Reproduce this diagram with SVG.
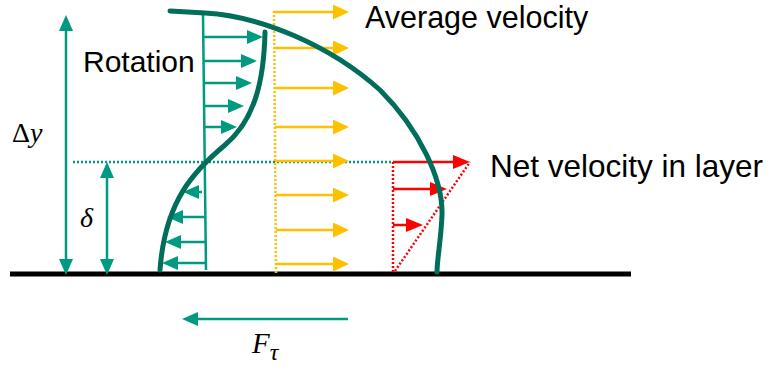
<svg xmlns="http://www.w3.org/2000/svg" width="771" height="370" viewBox="0 0 771 370">
<style>
.lbl{font-family:"Liberation Sans",Arial,sans-serif;font-size:31.5px;fill:#000}
.math{font-family:"Liberation Serif","Times New Roman",serif;fill:#000}
.teal{stroke:#009a80;stroke-width:2.5;fill:none}
.yel{stroke:#ffc000;stroke-width:2.5;fill:none}
.red{stroke:#ff0000;stroke-width:2.5;fill:none}
.thick{stroke:#006e5a;stroke-width:5;fill:none;stroke-linecap:round}
</style>
<defs>
<marker id="mt" markerUnits="userSpaceOnUse" markerWidth="16" markerHeight="14" refX="6" refY="7" orient="auto-start-reverse"><path d="M0,0 L16,7 L0,14 z" fill="#009a80"/></marker>
<marker id="my" markerUnits="userSpaceOnUse" markerWidth="16" markerHeight="15" refX="6" refY="7.5" orient="auto"><path d="M0,0 L16,7.5 L0,15 z" fill="#ffc000"/></marker>
<marker id="mr" markerUnits="userSpaceOnUse" markerWidth="17" markerHeight="14" refX="6" refY="7" orient="auto"><path d="M0,0 L17,7 L0,14 z" fill="#ff0000"/></marker>
</defs>
<g id="ground"><line x1="10" y1="274" x2="631" y2="274" stroke="#000" stroke-width="5"/></g>
<g id="connectors">
<line class="teal" x1="66" y1="25" x2="66" y2="265" marker-start="url(#mt)" marker-end="url(#mt)"/>
<line class="teal" x1="107" y1="172" x2="107" y2="265" marker-start="url(#mt)" marker-end="url(#mt)"/>
<line class="teal" x1="73" y1="162" x2="393" y2="162" stroke-width="2" stroke-dasharray="2 2"/>
<line class="teal" x1="203" y1="14" x2="206" y2="270"/>
<line class="teal" x1="204" y1="37" x2="253" y2="37" marker-end="url(#mt)"/>
<line class="teal" x1="204" y1="61" x2="247" y2="61" marker-end="url(#mt)"/>
<line class="teal" x1="204" y1="83" x2="242" y2="83" marker-end="url(#mt)"/>
<line class="teal" x1="205" y1="106" x2="234" y2="106" marker-end="url(#mt)"/>
<line class="teal" x1="205" y1="127" x2="227" y2="127" marker-end="url(#mt)"/>
<line class="teal" x1="202" y1="192" x2="193" y2="192" marker-end="url(#mt)"/>
<line class="teal" x1="206" y1="217" x2="177" y2="217" marker-end="url(#mt)"/>
<line class="teal" x1="206" y1="242" x2="175" y2="242" marker-end="url(#mt)"/>
<line class="teal" x1="206" y1="263" x2="172" y2="263" marker-end="url(#mt)"/>
<line class="yel" x1="274" y1="11" x2="276" y2="273" stroke-width="2" stroke-dasharray="2 2"/>
<line class="yel" x1="274" y1="12" x2="339" y2="12" marker-end="url(#my)"/>
<line class="yel" x1="274" y1="48" x2="339" y2="48" marker-end="url(#my)"/>
<line class="yel" x1="275" y1="88" x2="339" y2="88" marker-end="url(#my)"/>
<line class="yel" x1="275" y1="127" x2="339" y2="127" marker-end="url(#my)"/>
<line class="yel" x1="275" y1="161" x2="339" y2="161" marker-end="url(#my)"/>
<line class="yel" x1="276" y1="195" x2="339" y2="195" marker-end="url(#my)"/>
<line class="yel" x1="276" y1="230" x2="339" y2="230" marker-end="url(#my)"/>
<line class="yel" x1="276" y1="264" x2="339" y2="264" marker-end="url(#my)"/>
<line class="red" x1="393" y1="162" x2="393" y2="272" stroke-width="2" stroke-dasharray="2 2"/>
<line class="red" x1="395" y1="271" x2="470" y2="162" stroke-width="2" stroke-dasharray="2 2"/>
<line class="red" x1="393" y1="162" x2="459" y2="162" marker-end="url(#mr)"/>
<line class="red" x1="393" y1="189" x2="436" y2="189" marker-end="url(#mr)"/>
<line class="red" x1="393" y1="225" x2="412" y2="225" marker-end="url(#mr)"/>
<line class="teal" x1="348" y1="319" x2="192" y2="319" stroke-width="3" marker-end="url(#mt)"/>
</g>
<g id="curves">
<path class="thick" d="M170,11 L205,13 C260,16 330,45 380,90 C420,130 443,180 442,215 C441,240 437,260 437,272"/>
<path class="thick" d="M265,32 C264,80 255,120 225,145 C195,170 165,200 160,270"/>
</g>
<g id="labels">
<text class="lbl" x="83" y="72" style="font-size:30px">Rotation</text>
<text class="lbl" x="365" y="28" style="font-size:30.5px">Average velocity</text>
<text class="lbl" x="490" y="177">Net velocity in layer</text>
<text class="math" x="12" y="142" font-size="28">Δ<tspan font-style="italic">y</tspan></text>
<text class="math" x="80" y="227" font-size="28" font-style="italic">δ</text>
<text class="math" x="252" y="353" font-size="29" font-style="italic">F<tspan font-size="24" dy="7">τ</tspan></text>
</g>
</svg>
